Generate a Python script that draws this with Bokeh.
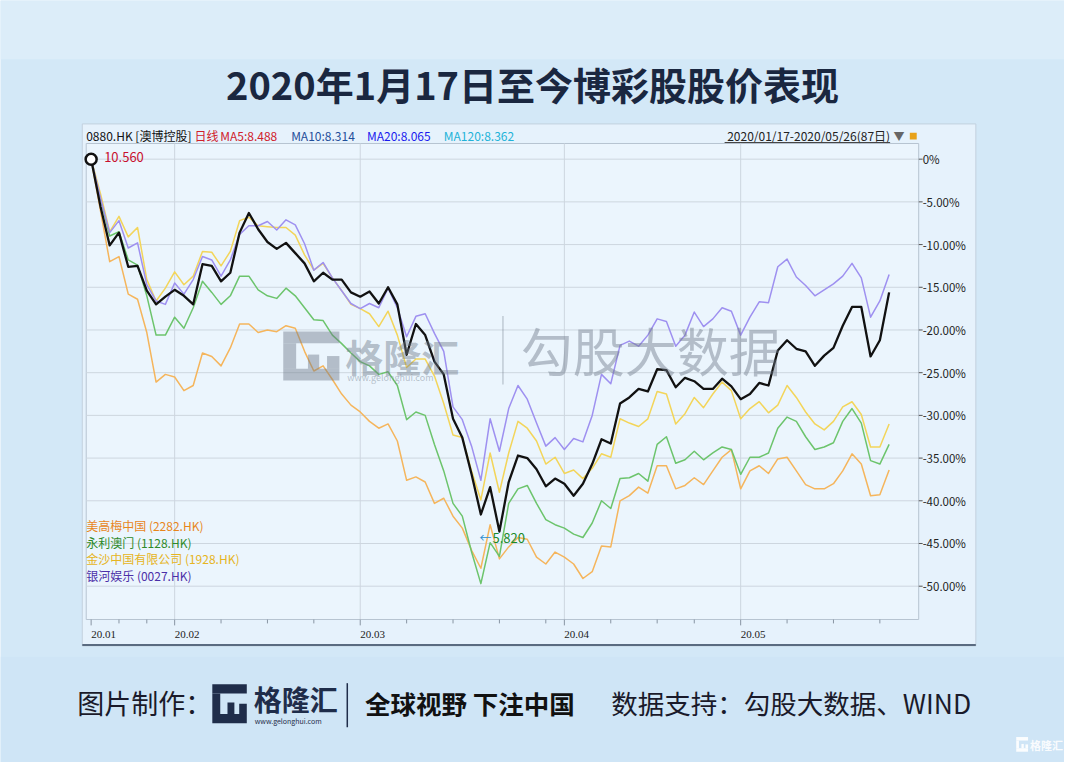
from bokeh.plotting import figure
from bokeh.models import Range1d
from bokeh.core.properties import value
from bokeh.embed import file_html
from bokeh.resources import INLINE

# ---------------- data (percent change since 2020/01/17) ----------------
trade_index = list(range(87))

sjm_0880 = [0, -5.5, -10.1, -8.6, -12.6, -12.5, -15.4, -17.0, -16.1, -15.3,
            -16.0, -17.0, -12.3, -12.5, -14.3, -13.3, -8.6, -6.3, -8.2, -9.7,
            -10.5, -9.8, -11.0, -12.2, -14.3, -13.3, -14.1, -14.1, -15.6, -16.1,
            -15.5, -16.9, -15.0, -17.0, -22.9, -19.3, -20.6, -23.7, -25.2, -30.4,
            -32.6, -36.9, -41.6, -38.4, -43.6, -37.8, -34.7, -35.0, -36.3, -38.3,
            -37.4, -38.0, -39.4, -38.0, -35.7, -32.8, -33.3, -28.6, -27.9, -26.9,
            -27.2, -24.6, -24.7, -26.7, -25.6, -26.0, -26.9, -26.9, -25.7, -26.6,
            -28.1, -27.5, -26.2, -26.5, -22.4, -21.2, -22.2, -22.5, -24.2, -23.0,
            -22.1, -19.5, -17.3, -17.3, -23.1, -21.2, -15.6]

galaxy_0027 = [0, -4.5, -8.6, -7.2, -10.4, -9.8, -14.7, -16.6, -17.0, -14.5,
               -15.8, -14.1, -11.4, -11.8, -13.7, -11.8, -8.8, -7.8, -7.8, -7.3,
               -8.3, -7.1, -7.7, -9.9, -13.0, -12.1, -13.9, -15.4, -16.9, -17.5,
               -16.9, -17.4, -15.1, -17.4, -20.8, -18.4, -18.1, -20.4, -22.5, -29.0,
               -30.5, -33.6, -37.6, -30.4, -34.2, -29.2, -26.5, -28.1, -30.9, -33.6,
               -32.6, -34.0, -32.7, -33.1, -30.0, -25.2, -26.3, -21.8, -21.3, -21.9,
               -20.6, -18.7, -19.0, -21.9, -20.6, -17.9, -19.6, -18.7, -17.4, -17.8,
               -20.6, -18.5, -16.7, -16.8, -12.6, -11.7, -13.8, -14.8, -16.0, -15.3,
               -14.6, -13.7, -12.2, -13.9, -18.5, -16.6, -13.5]

sands_1928 = [0, -4.0, -8.5, -6.7, -9.1, -8.0, -14.1, -16.6, -15.1, -13.2,
              -14.7, -13.7, -10.8, -10.9, -12.5, -10.8, -7.2, -6.8, -7.8, -7.9,
              -8.0, -8.0, -8.9, -11.2, -13.0, -12.2, -13.9, -15.4, -17.0, -17.5,
              -18.1, -19.6, -17.8, -20.6, -24.4, -23.4, -23.4, -25.4, -28.6, -32.3,
              -32.6, -36.5, -39.9, -34.4, -39.0, -34.4, -30.7, -31.5, -33.0, -35.7,
              -34.9, -36.8, -36.4, -37.4, -36.2, -34.5, -34.9, -30.4, -30.9, -31.3,
              -30.4, -27.2, -27.5, -31.0, -29.8, -27.9, -29.1, -27.5, -26.1, -27.1,
              -30.4, -29.2, -28.4, -29.7, -28.8, -26.5, -27.9, -29.6, -31.0, -31.7,
              -30.7, -29.0, -28.4, -29.9, -33.7, -33.7, -31.0]

wynn_1128 = [0, -4.5, -9.0, -8.5, -11.8, -12.4, -16.0, -20.6, -20.6, -18.5,
             -19.8, -17.4, -14.3, -15.6, -17.0, -16.0, -13.7, -13.7, -15.3, -16.0,
             -16.3, -15.1, -16.0, -17.4, -18.8, -18.9, -20.6, -21.6, -22.7, -23.7,
             -24.2, -25.2, -24.9, -26.5, -30.5, -29.6, -30.0, -33.4, -36.5, -40.3,
             -41.8, -46.0, -49.7, -44.9, -46.5, -40.3, -38.6, -38.2, -40.3, -42.2,
             -42.8, -43.2, -43.9, -44.3, -42.6, -40.0, -40.9, -37.4, -37.3, -36.8,
             -37.7, -33.4, -32.5, -35.6, -35.2, -34.2, -35.2, -34.4, -33.7, -34.0,
             -36.9, -34.9, -34.9, -34.4, -31.5, -30.2, -30.7, -32.5, -34.0, -33.7,
             -33.2, -30.7, -29.2, -30.9, -35.3, -35.7, -33.4]

mgm_2282 = [0, -6.0, -12.0, -11.4, -15.8, -16.4, -20.3, -26.1, -25.2, -25.5,
            -27.1, -26.5, -22.7, -23.1, -24.2, -22.1, -19.3, -19.3, -20.3, -20.0,
            -20.2, -19.5, -19.8, -22.5, -24.8, -24.2, -25.8, -27.5, -28.8, -29.6,
            -30.7, -31.5, -31.0, -33.0, -37.6, -37.2, -37.8, -40.3, -39.7, -41.8,
            -43.2, -45.8, -47.9, -42.8, -46.8, -45.4, -44.3, -44.5, -46.6, -47.4,
            -46.0, -46.6, -47.4, -49.1, -48.3, -45.3, -45.4, -40.0, -39.4, -38.4,
            -39.1, -35.9, -35.9, -38.6, -38.2, -37.3, -38.1, -36.5, -34.9, -34.0,
            -38.6, -36.5, -35.9, -36.8, -35.1, -34.9, -36.5, -38.1, -38.6, -38.6,
            -38.0, -36.5, -34.5, -35.7, -39.4, -39.3, -36.4]

series_names = ["美高梅中国 (2282.HK)", "永利澳门 (1128.HK)",
                "金沙中国有限公司 (1928.HK)", "银河娱乐 (0027.HK)"]

y_ticks = [0, -5, -10, -15, -20, -25, -30, -35, -40, -45, -50]
y_tick_labels = ["0%", "-5.00%", "-10.00%", "-15.00%", "-20.00%", "-25.00%",
                 "-30.00%", "-35.00%", "-40.00%", "-45.00%", "-50.00%"]
month_ticks = [0, 9, 29, 51, 70]
month_labels = ["20.01", "20.02", "20.03", "20.04", "20.05"]
week_ticks = [3, 6, 14, 19, 24, 34, 39, 44, 49, 56, 61, 65, 75, 80, 85]

start_price = 10.560
low_price = 5.820
low_index = 44

# ---------------- layout (design space = 1080 x 778, drawn into 1064 x 762) ----------------
W, H = 1064, 762
VW, VH = 1080, 778
X0, DX = 92.0, 9.4186      # design x of day 0, px per trading day
Y0, DY = 162.0, 8.72       # design y of 0 %, px per 1 %
PL, PR, PT, PB = 87, 932, 146, 632
CJK = "Noto Sans CJK SC"
BG = "#d3e8f7"

p = figure(width=W, height=H, output_backend="svg", toolbar_location=None,
           x_range=Range1d(0, VW), y_range=Range1d(VH, 0),
           x_axis_type=None, y_axis_type=None, min_border=0,
           outline_line_color=None, background_fill_color=BG,
           border_fill_color=BG)
p.extra_x_ranges = {"d": Range1d((0 - X0) / DX, (VW - X0) / DX)}
p.extra_y_ranges = {"p": Range1d((Y0 - VH) / DY, (Y0 - 0) / DY)}


def T(x, y, s, size, color, bold=False, font=CJK, align="left",
      baseline="middle", alpha=1.0, xr="default", yr="default",
      xo=0, yo=0):
    p.text(x=[x], y=[y], text=[s], x_range_name=xr, y_range_name=yr,
           text_font=value(font), text_font_size=f"{size}px",
           text_font_style="bold" if bold else "normal",
           text_color=color, text_alpha=alpha, text_align=align,
           text_baseline=baseline, x_offset=xo, y_offset=yo)


def G(x0, y0, w, h, color, alpha=1.0):
    parts = [(0, 1, 0, 0.24), (0, 0.23, 0.24, 0.76), (0, 1, 0.76, 1),
             (0.78, 1, 0.5, 0.76), (0.44, 0.64, 0.47, 0.76)]
    p.quad(left=[x0 + a * w for a, b, c, d in parts],
           right=[x0 + b * w for a, b, c, d in parts],
           top=[y0 + c * h for a, b, c, d in parts],
           bottom=[y0 + d * h for a, b, c, d in parts],
           fill_color=color, fill_alpha=alpha, line_color=None)


# background soft bands
p.quad(left=[0], right=[VW], top=[0], bottom=[60], fill_color="#dcedf9", line_color=None)
p.quad(left=[0], right=[VW], top=[670], bottom=[VH], fill_color="#cfe5f6", line_color=None)

# chart panel
p.quad(left=[83], right=[990], top=[126], bottom=[659],
       fill_color="#e6f2fc", line_color="#c3d1de", line_width=1)
p.quad(left=[PL], right=[PR], top=[PT], bottom=[PB],
       fill_color="#ebf5fd", line_color="#b7c4d1", line_width=1)

# grid
p.segment(x0=[PL] * len(y_ticks), x1=[PR] * len(y_ticks), y0=y_ticks, y1=y_ticks,
          y_range_name="p", line_color="#cdd6df", line_width=1)
p.segment(x0=month_ticks[1:], x1=month_ticks[1:], y0=[PT] * 4, y1=[PB] * 4,
          x_range_name="d", line_color="#cdd6df", line_width=1)
# right axis ticks + labels
p.segment(x0=[PR] * len(y_ticks), x1=[PR + 4] * len(y_ticks), y0=y_ticks, y1=y_ticks,
          y_range_name="p", line_color="#555555", line_width=1)
p.text(x=[936] * len(y_ticks), y=y_ticks, text=y_tick_labels, y_range_name="p",
       text_font=value(CJK), text_font_size="11.5px", text_color="#222222",
       text_align="left", text_baseline="middle")
# bottom axis ticks + labels
p.segment(x0=week_ticks, x1=week_ticks, y0=[PB] * len(week_ticks),
          y1=[PB + 4] * len(week_ticks), x_range_name="d",
          line_color="#8895a3", line_width=1)
p.segment(x0=month_ticks, x1=month_ticks, y0=[PB] * 5, y1=[PB + 6] * 5,
          x_range_name="d", line_color="#8895a3", line_width=1)
p.text(x=month_ticks, y=[647] * 5, text=month_labels, x_range_name="d",
       text_font=value("Liberation Sans Narrow"), text_font_size="11px",
       text_color="#222222", text_align="left", text_baseline="middle")
p.segment(x0=[83], x1=[990], y0=[658], y1=[658], line_color="#5a6b80", line_width=2)

# series
styles = [(mgm_2282, "#f5b55c", 1.5), (wynn_1128, "#6cc46c", 1.5),
          (sands_1928, "#f3d55a", 1.5), (galaxy_0027, "#9e90f0", 1.5),
          (sjm_0880, "#111111", 2.3)]
for vals, col, lw in styles:
    p.line(trade_index, vals, x_range_name="d", y_range_name="p",
           line_color=col, line_width=lw, line_join="round")

p.scatter(x=[trade_index[0]], y=[sjm_0880[0]], x_range_name="d", y_range_name="p",
          marker="circle", size=11, fill_color="white", line_color="#111111",
          line_width=2.5)
T(trade_index[0], sjm_0880[0], f"{start_price:.3f}", 13, "#c8102e",
  xr="d", yr="p", xo=13, yo=-2)
T(low_index, sjm_0880[low_index], "←", 12, "#2a8fd0", xr="d", yr="p", xo=-20, yo=6)
T(low_index, sjm_0880[low_index], f"{low_price:.3f}", 13, "#1a8a2a", xr="d", yr="p", xo=-7, yo=6)

# watermark
WM = "#6f7b89"
G(287, 338, 57, 50, WM, alpha=0.45)
T(350, 362, "格隆汇", 38, WM, bold=True, alpha=0.45)
T(352, 385, "www.gelonghui.com", 9, WM, alpha=0.45)
p.segment(x0=[510], x1=[510], y0=[322], y1=[392], line_color=WM, line_alpha=0.35, line_width=1.5)
T(528, 356, "勾股大数据", 52, WM, alpha=0.45)

# header texts
T(87, 138, "0880.HK [澳博控股]", 12, "#111111")
T(197, 138, "日线", 12, "#d0202a")
T(223, 138, "MA5:8.488", 12, "#d0202a")
T(295, 138, "MA10:8.314", 12, "#1f4e9a")
T(372, 138, "MA20:8.065", 12, "#1a1aee")
T(450, 138, "MA120:8.362", 12, "#22b2d8")
T(903, 138, "2020/01/17-2020/05/26(87日)", 12, "#222222", align="right")
p.segment(x0=[735], x1=[903], y0=[145], y1=[145], line_color="#444444", line_width=1)
T(912, 138, "▼", 11, "#666666", align="center")
p.quad(left=[923], right=[930], top=[135], bottom=[142], fill_color="#e8a21a", line_color=None)

# legend
legend_colors = ["#e8861c", "#2f8a2a", "#e6b422", "#4b2fa8"]
p.text(x=[87] * 4, y=[536, 553, 570, 587], text=series_names,
       text_font=value(CJK), text_font_size="12px", text_color=legend_colors,
       text_align="left", text_baseline="middle")

# title
T(540, 85, "2020年1月17日至今博彩股股价表现", 38, "#1a2740", bold=True, align="center")

# bottom banner
T(78, 717, "图片制作：", 27, "#1a1a2a")
G(215, 698, 35, 40, "#1f2d4a")
T(257, 713, "格隆汇", 28, "#1f2d4a", bold=True)
T(258, 736, "www.gelonghui.com", 7, "#1f2d4a")
p.segment(x0=[352], x1=[352], y0=[697], y1=[742], line_color="#1f2d4a", line_width=1.5)
T(370, 717, "全球视野 下注中国", 25.5, "#111111", bold=True)
T(620, 717, "数据支持：勾股大数据、WIND", 26.5, "#1a1a2a")

# corner logo
G(1031, 752, 12, 15, "#ffffff", alpha=0.9)
T(1045, 760, "格隆汇", 11, "#ffffff", bold=True, alpha=0.9)

open("out.html", "w").write(file_html(p, INLINE))
